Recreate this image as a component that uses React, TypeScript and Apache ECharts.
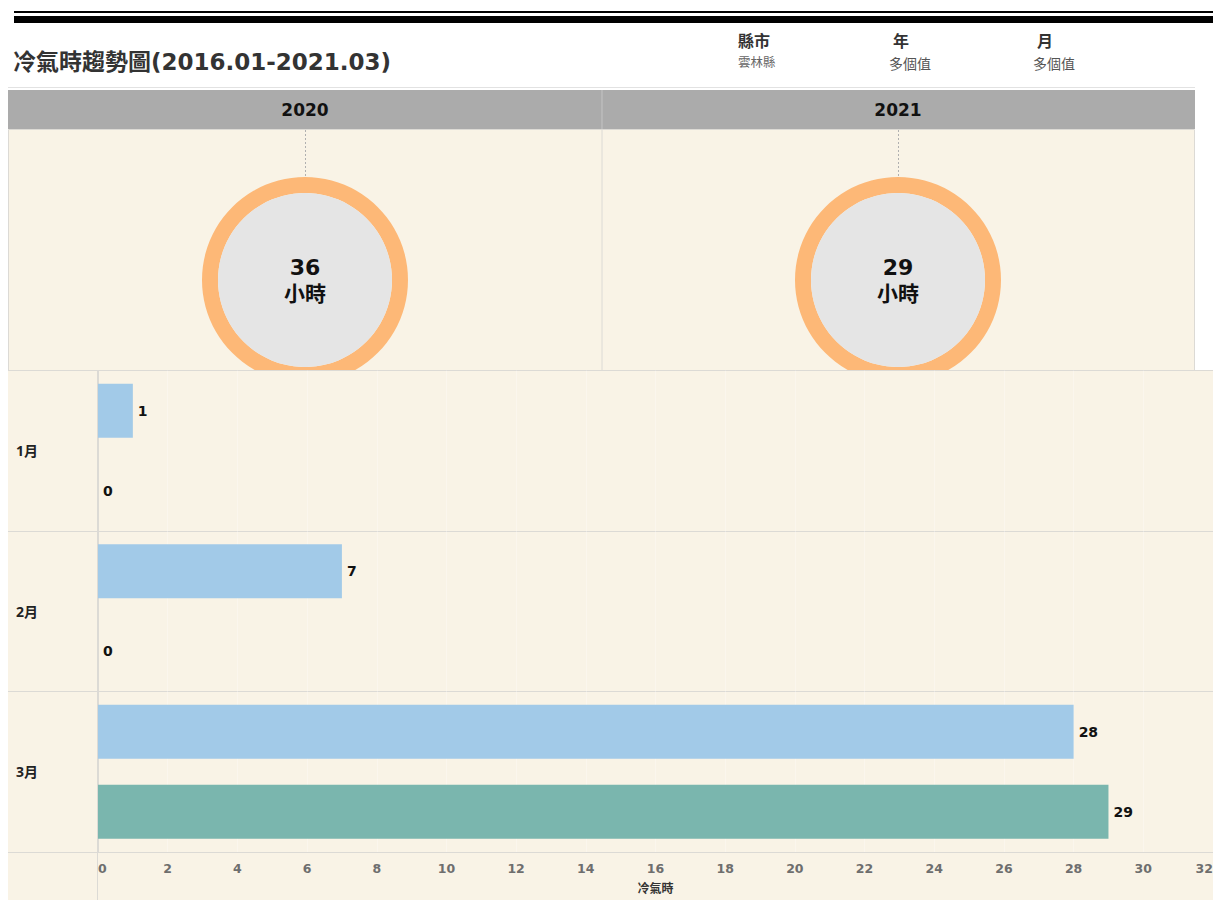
import React, { useEffect, useRef } from "react";
import * as echarts from "echarts";

const years = ["2020", "2021"];
const totals = [36, 29];
const months = ["1月", "2月", "3月"];
const values2020 = [1, 7, 28];
const values2021 = [0, 0, 29];
const axisTicks = { min: 0, max: 32, interval: 2 };

const BG = "#f9f3e6";
const LINE = "#dcdad5";
const FONT = "'Noto Sans', 'Noto Sans CJK TC', sans-serif";
const NUMFONT = "'DejaVu Sans', 'Noto Sans CJK TC', sans-serif";

function TopChart() {
  const ref = useRef<HTMLDivElement>(null);
  useEffect(() => {
    const chart = echarts.init(ref.current!, null, { renderer: "svg" });
    const centersX = [305, 898];
    const series: any[] = [];
    years.forEach((y, i) => {
      series.push({
        type: "pie",
        silent: true,
        center: [centersX[i], 280],
        radius: [87, 103],
        label: { show: false },
        labelLine: { show: false },
        itemStyle: { color: "#fdb877" },
        data: [{ name: y, value: totals[i] }],
        z: 3,
      });
      series.push({
        type: "pie",
        silent: true,
        center: [centersX[i], 280],
        radius: [0, 87],
        itemStyle: { color: "#e5e5e5" },
        labelLine: { show: false },
        label: {
          show: true,
          position: "center",
          formatter: (p: any) => `{v|${p.value}}\n{u|小時}`,
          rich: {
            v: { fontSize: 22, fontWeight: "bold", color: "#111", fontFamily: NUMFONT, lineHeight: 26 },
            u: { fontSize: 21, fontWeight: "bold", color: "#111", fontFamily: FONT, lineHeight: 26 },
          },
        },
        data: [{ name: y, value: totals[i] }],
        z: 3,
      });
    });
    const graphic: any[] = [
      { type: "rect", shape: { x: 14, y: 11, width: 1199, height: 2 }, style: { fill: "#000" } },
      { type: "rect", shape: { x: 14, y: 16, width: 1199, height: 7 }, style: { fill: "#000" } },
      {
        type: "text", x: 13, y: 62,
        style: { text: "冷氣時趨勢圖(2016.01-2021.03)", font: `bold 23px ${NUMFONT}`, fill: "#333", textVerticalAlign: "middle" },
      },
      { type: "text", x: 738, y: 41, style: { text: "縣市", font: `bold 16px ${FONT}`, fill: "#333", textVerticalAlign: "middle" } },
      { type: "text", x: 738, y: 62, style: { text: "雲林縣", font: `12.5px ${FONT}`, fill: "#666", textVerticalAlign: "middle" } },
      { type: "text", x: 893, y: 41, style: { text: "年", font: `bold 16px ${FONT}`, fill: "#333", textVerticalAlign: "middle" } },
      { type: "text", x: 889, y: 63, style: { text: "多個值", font: `14px ${FONT}`, fill: "#555", textVerticalAlign: "middle" } },
      { type: "text", x: 1037, y: 41, style: { text: "月", font: `bold 16px ${FONT}`, fill: "#333", textVerticalAlign: "middle" } },
      { type: "text", x: 1033, y: 63, style: { text: "多個值", font: `14px ${FONT}`, fill: "#555", textVerticalAlign: "middle" } },
      { type: "line", shape: { x1: 8, y1: 87.5, x2: 1195, y2: 87.5 }, style: { stroke: "#e2e2e2", lineWidth: 1 } },
      { type: "rect", shape: { x: 8, y: 90, width: 1187, height: 39 }, style: { fill: "#ababab" } },
      { type: "line", shape: { x1: 602, y1: 90, x2: 602, y2: 129 }, style: { stroke: "#c4c4c4", lineWidth: 1 } },
      { type: "rect", shape: { x: 8.5, y: 129.5, width: 1186, height: 245 }, style: { fill: BG, stroke: LINE, lineWidth: 1 }, z: -1 },
      { type: "line", shape: { x1: 602, y1: 130, x2: 602, y2: 370 }, style: { stroke: LINE, lineWidth: 1 } },
    ];
    years.forEach((y, i) => {
      graphic.push({
        type: "text", x: centersX[i], y: 110,
        style: { text: y, font: `bold 17px ${NUMFONT}`, fill: "#111", textAlign: "center", textVerticalAlign: "middle" },
      });
      graphic.push({
        type: "line", shape: { x1: centersX[i] + 0.5, y1: 130, x2: centersX[i] + 0.5, y2: 178 },
        style: { stroke: "#b0b0b0", lineWidth: 1, lineDash: [2, 2] },
      });
    });
    chart.setOption({
      animation: false,
      graphic: { elements: graphic },
      series,
    });
    return () => chart.dispose();
  }, []);
  return <div ref={ref} style={{ position: "absolute", left: 0, top: 0, width: 1213, height: 370 }} />;
}

function BottomChart() {
  const ref = useRef<HTMLDivElement>(null);
  useEffect(() => {
    const chart = echarts.init(ref.current!, null, { renderer: "svg" });
    const labelStyle = {
      show: true,
      position: "right",
      distance: 5,
      fontSize: 14,
      fontWeight: "bold",
      color: "#111",
      fontFamily: NUMFONT,
    };
    chart.setOption({
      animation: false,
      graphic: {
        elements: [
          { type: "rect", z: -10, shape: { x: 8, y: 0, width: 1205, height: 530 }, style: { fill: BG } },
          { type: "line", z: -5, shape: { x1: 97.5, y1: 0, x2: 97.5, y2: 530 }, style: { stroke: LINE, lineWidth: 1 } },
        ],
      },
      grid: { left: 98, right: 0, top: 0.5, bottom: 48, containLabel: false, outerBoundsMode: "none" },
      xAxis: {
        type: "value",
        min: axisTicks.min,
        max: axisTicks.max,
        interval: axisTicks.interval,
        name: "冷氣時",
        nameLocation: "middle",
        nameGap: 30,
        nameTextStyle: { fontSize: 12, fontWeight: "bold", color: "#333", fontFamily: FONT },
        axisLine: { show: false },
        axisTick: { show: false },
        axisLabel: {
          color: "#6e6e6e",
          fontWeight: "bold",
          fontSize: 12.5,
          fontFamily: NUMFONT,
          margin: 10,
          alignMinLabel: "left",
          alignMaxLabel: "right",
        },
        splitLine: { show: true, lineStyle: { color: "rgba(255,255,255,0.3)", width: 1 } },
      },
      yAxis: {
        type: "category",
        data: months,
        inverse: true,
        axisLine: { show: true, lineStyle: { color: LINE } },
        axisTick: { show: true, length: 90, lineStyle: { color: LINE } },
        axisLabel: {
          align: "left",
          margin: 82,
          fontSize: 14,
          fontWeight: "bold",
          color: "#222",
          fontFamily: FONT,
        },
        splitLine: { show: true, lineStyle: { color: LINE } },
      },
      series: [
        {
          name: years[0],
          type: "bar",
          data: values2020,
          barWidth: 54,
          barGap: "48%",
          itemStyle: { color: "#a2cae8" },
          label: labelStyle,
          silent: true,
        },
        {
          name: years[1],
          type: "bar",
          data: values2021,
          barWidth: 54,
          barGap: "48%",
          itemStyle: { color: "#7ab6ae" },
          label: labelStyle,
          silent: true,
        },
      ],
    });
    return () => chart.dispose();
  }, []);
  return <div ref={ref} style={{ position: "absolute", left: 0, top: 370, width: 1213, height: 530 }} />;
}

export default function App() {
  return (
    <div style={{ position: "fixed", left: 0, top: 0, width: 1213, height: 900, background: "#fff", overflow: "hidden" }}>
      <TopChart />
      <BottomChart />
    </div>
  );
}
